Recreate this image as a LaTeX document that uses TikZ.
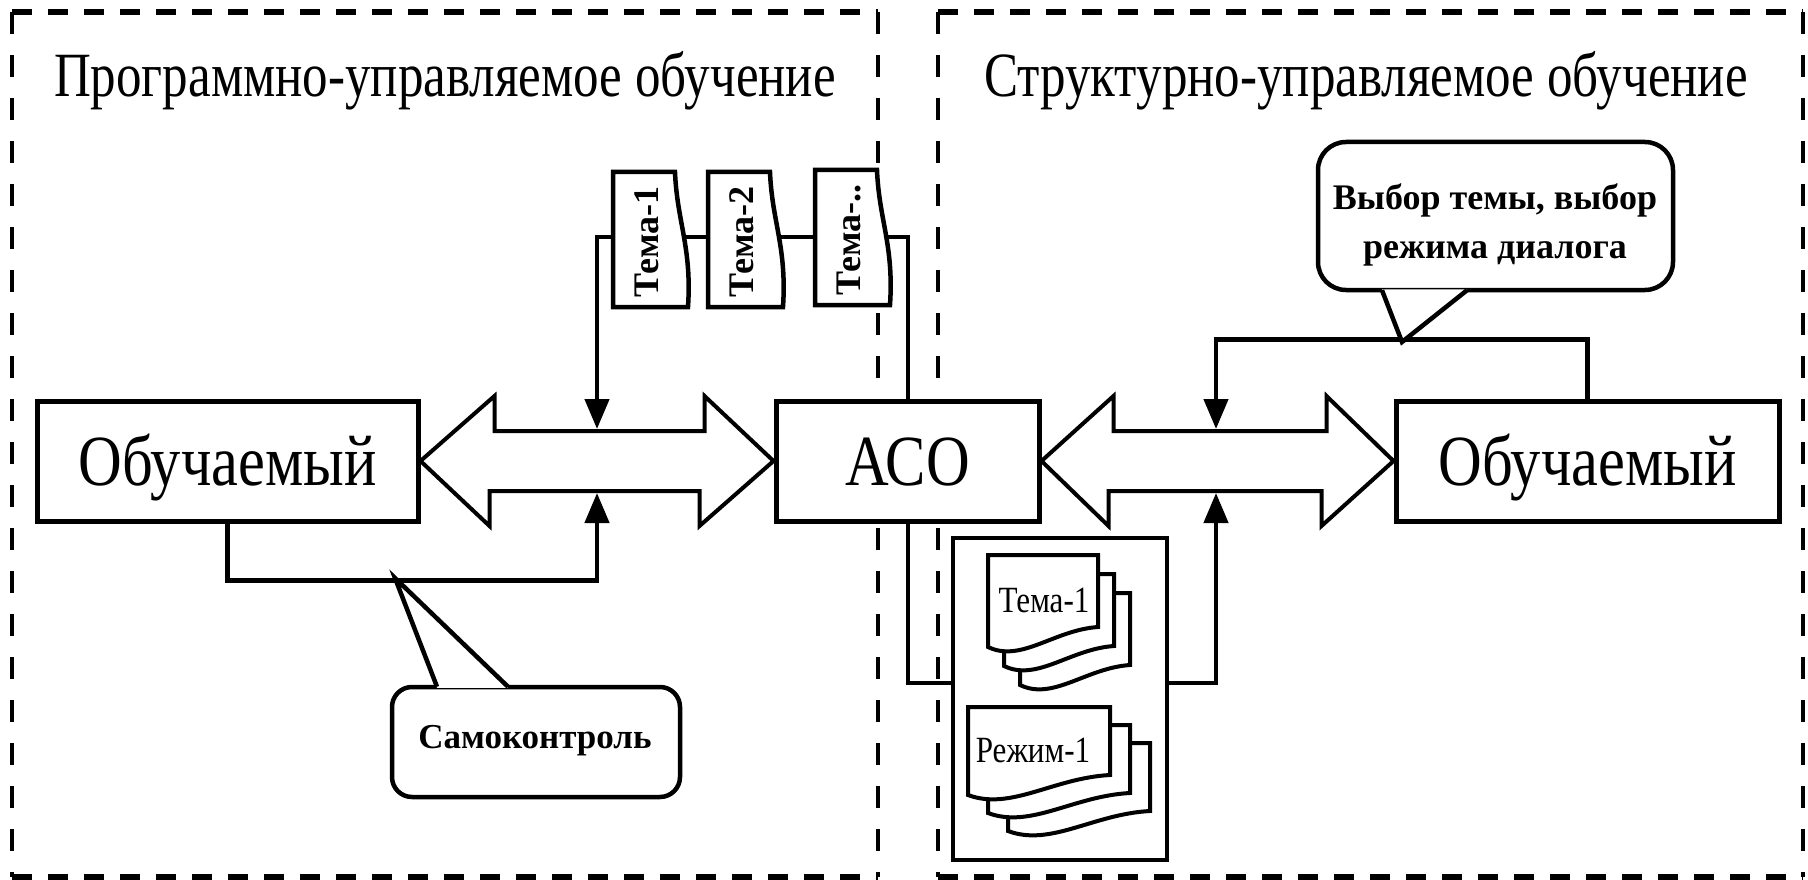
\documentclass[tikz,border=0pt]{standalone}
\usepackage{fontspec}
\setmainfont{Liberation Serif}
\usetikzlibrary{arrows.meta,calc,backgrounds}
\begin{document}
\begin{tikzpicture}[x=1pt,y=-1pt,
  hdash/.style={line width=6pt,dash pattern=on 20pt off 16pt},
  vdash/.style={line width=4.5pt,dash pattern=on 22pt off 21pt},
  tbox/.style={draw,line width=5pt,fill=white,inner sep=0pt,minimum height=120pt,font=\fontsize{72}{80}\selectfont,text height=48pt,text depth=0pt},
  conn/.style={line width=4.5pt},
  arrowend/.style={-{Triangle[width=24pt,length=30pt]}},
  dblarrow/.style={draw,line width=4pt,fill=white,miter limit=20},
  bubble/.style={draw,line width=4.5pt,fill=white,rounded corners=#1,inner sep=0pt},
  tcard/.style={draw,line width=4.5pt,fill=white},
  tsheet/.style={draw,line width=4pt,fill=white},
  ttitle/.style={font=\fontsize{63}{70}\selectfont,anchor=base,inner sep=0pt},
  cardtext/.style={font=\bfseries\fontsize{36}{40}\selectfont,anchor=base,inner sep=0pt,rotate=90},
  btext/.style={font=\bfseries\fontsize{#1}{#1}\selectfont,anchor=base,inner sep=0pt},
  stext/.style={font=\fontsize{37}{40}\selectfont,anchor=base,inner sep=0pt},
  pics/sheet/.style args={#1/#2}{code={\draw[tsheet] (0,0) -- (#1,0) -- (#1,#2-20) .. controls (0.6*#1,#2-17) and (0.3*#1,#2+16) .. (0,#2) -- cycle;}},
  pics/tcardp/.style={code={\draw[tcard] (0,0) -- (62,0) .. controls (64,50) and (79,75) .. (75,135) -- (0,135) -- cycle;}},
]
\useasboundingbox (0,0) rectangle (1808,880);

% titles
\node[ttitle] (T1) at (445,97) {\scalebox{0.81}[1]{Программно-управляемое обучение}};
\node[ttitle] (T2) at (1366,97) {\scalebox{0.81}[1]{Структурно-управляемое обучение}};

% main boxes
\node[tbox,minimum width=381pt] (L) at (227.5,461) {\scalebox{0.84}[1]{Обучаемый}};
\node[tbox,minimum width=263pt] (A) at (907.5,461) {\scalebox{0.84}[1]{АСО}};
\node[tbox,minimum width=383pt] (R) at (1587.5,461) {\scalebox{0.84}[1]{Обучаемый}};
\node[draw,line width=4.5pt,fill=white,minimum width=214pt,minimum height=322pt,inner sep=0pt] (lib) at (1060,699) {};

\coordinate (LAtop) at (597,429);
\coordinate (LAbot) at (597,493);
\coordinate (RAtop) at (1216,429);
\coordinate (RAbot) at (1216,493);
\coordinate (cardline) at (908,237);

\begin{scope}[on background layer]
  \draw[hdash] (12,12) -- (878,12);
  \draw[hdash] (12,877) -- (878,877);
  \draw[vdash] (12,12) -- (12,877);
  \draw[vdash] (878,12) -- (878,877);
  \draw[hdash] (938,12) -- (1803,12);
  \draw[hdash] (938,877) -- (1803,877);
  \draw[vdash] (938,12) -- (938,877);
  \draw[vdash] (1803,12) -- (1803,877);
  \draw[conn,arrowend] (L.south) -- ++(0,57) -| (LAbot);
  \draw[conn,arrowend] ([yshift=16pt]lib.west) -| (cardline) -| (LAtop);
  \draw[conn,arrowend] (R.north) -- ++(0,-59) -| (RAtop);
  \draw[conn,arrowend] ([yshift=16pt]lib.east) -| (RAbot);
\end{scope}

% double arrows
\draw[dblarrow] (L.east) -- ++(74,-65) -- ++(0,35) -- ++(210,0) -- ++(0,-35) -- (A.west) -- ++(-74,65) -- ++(0,-35) -- ++(-210,0) -- ++(0,35) -- cycle;
\draw[dblarrow] (A.east) -- ++(72,-65) -- ++(0,35) -- ++(213,0) -- ++(0,-35) -- (R.west) -- ++(-72,65) -- ++(0,-35) -- ++(-213,0) -- ++(0,35) -- cycle;

% topic cards
\pic at (613,172) {tcardp};
\pic at (708,172) {tcardp};
\pic at (815,170) {tcardp};
\node[cardtext] (c1) at (658,242) {Тема-1};
\node[cardtext] (c2) at (753,242) {Тема-2};
\node[cardtext] (c3) at (860,240) {Тема-..};

% stacks inside library box
\pic at (1020,593) {sheet=110/92};
\pic at (1004,574) {sheet=110/92};
\pic at (988,555) {sheet=110/92};
\node[stext] (s1) at (1044,612) {\scalebox{0.84}[1]{Тема-1}};
\pic at (1008,743) {sheet=142/88};
\pic at (988,725) {sheet=142/88};
\pic at (968,707) {sheet=142/88};
\node[stext] (s2) at (1033,762) {\scalebox{0.84}[1]{Режим-1}};

% callout Самоконтроль
\node[bubble=20pt,minimum width=288pt,minimum height=110pt] (S) at (536,742) {};
\coordinate (skp) at (395,578);
\fill[white] ($(S.north)+(-99,3)$) -- (skp) -- ($(S.north)+(-28,3)$) -- cycle;
\draw[line width=4.5pt] ($(S.north)+(-99,2)$) -- (skp) -- ($(S.north)+(-28,2)$);
\node[btext=35] (St) at (535,748) {Самоконтроль};

% callout Выбор
\node[bubble=28pt,minimum width=355pt,minimum height=148pt] (V) at (1495.5,216) {};
\coordinate (vp) at (1402,342);
\fill[white] ($(V.south)+(-113.5,-3)$) -- (vp) -- ($(V.south)+(-28.5,-3)$) -- cycle;
\draw[line width=4.5pt] ($(V.south)+(-113.5,-2)$) -- (vp) -- ($(V.south)+(-28.5,-2)$);
\node[btext=36] (V1) at (1495,209) {Выбор темы, выбор};
\node[btext=36] (V2) at (1495,258) {режима диалога};
\end{tikzpicture}
\end{document}
